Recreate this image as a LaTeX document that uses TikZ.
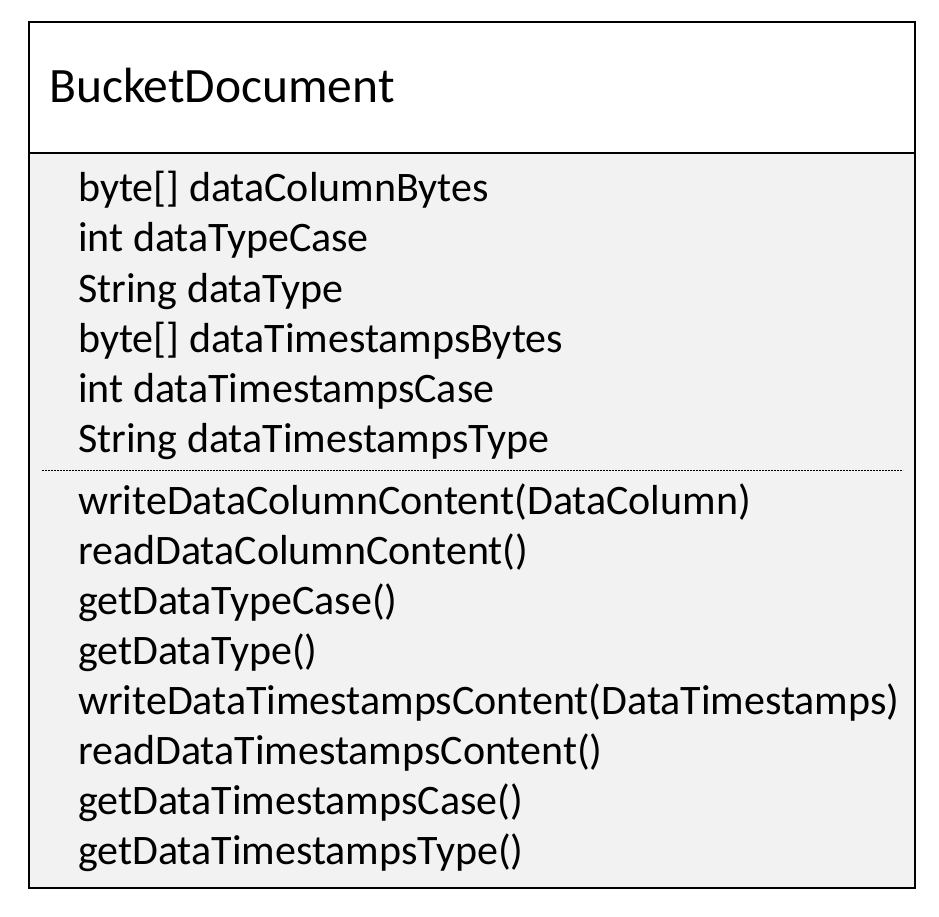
\documentclass[tikz,border=0pt]{standalone}
\usepackage{fontspec}
\setmainfont{Carlito}
\definecolor{bodygray}{HTML}{F2F2F2}
\begin{document}
\begin{tikzpicture}[x=1pt,y=-1pt,
  titletext/.style={anchor=base west,inner sep=0pt,font=\fontsize{49.5}{58}\selectfont},
  membertext/.style={anchor=base west,inner sep=0pt,font=\fontsize{42}{50}\selectfont},
  frame/.style={draw=black,line width=2.2pt},
  sepline/.style={draw=black,line width=0.8pt,dash pattern=on 2pt off 1pt}]
\useasboundingbox (0,0) rectangle (939,917);
\fill[bodygray] (29,153) rectangle (915,888);
\fill[white] (29,22) rectangle (915,153);
\draw[frame] (29,22) rectangle (915,888);
\draw[frame] (29,153) -- (915,153);
\coordinate (dl) at (42,470);
\coordinate (dr) at (903,470);
\draw[sepline] (dl) -- (dr);
\node[titletext] (title) at (49,103) {BucketDocument};
\node[membertext] (a1) at (78,202) {byte[] dataColumnBytes};
\node[membertext] (a2) at (78,252) {int dataTypeCase};
\node[membertext] (a3) at (78,302) {String dataType};
\node[membertext] (a4) at (78,352) {byte[] dataTimestampsBytes};
\node[membertext] (a5) at (78,402) {int dataTimestampsCase};
\node[membertext] (a6) at (78,452) {String dataTimestampsType};
\node[membertext] (m1) at (78,514) {writeDataColumnContent(DataColumn)};
\node[membertext] (m2) at (78,564) {readDataColumnContent()};
\node[membertext] (m3) at (78,614) {getDataTypeCase()};
\node[membertext] (m4) at (78,664) {getDataType()};
\node[membertext] (m5) at (78,714) {writeDataTimestampsContent(DataTimestamps)};
\node[membertext] (m6) at (78,764) {readDataTimestampsContent()};
\node[membertext] (m7) at (78,814) {getDataTimestampsCase()};
\node[membertext] (m8) at (78,864) {getDataTimestampsType()};
\end{tikzpicture}
\end{document}
